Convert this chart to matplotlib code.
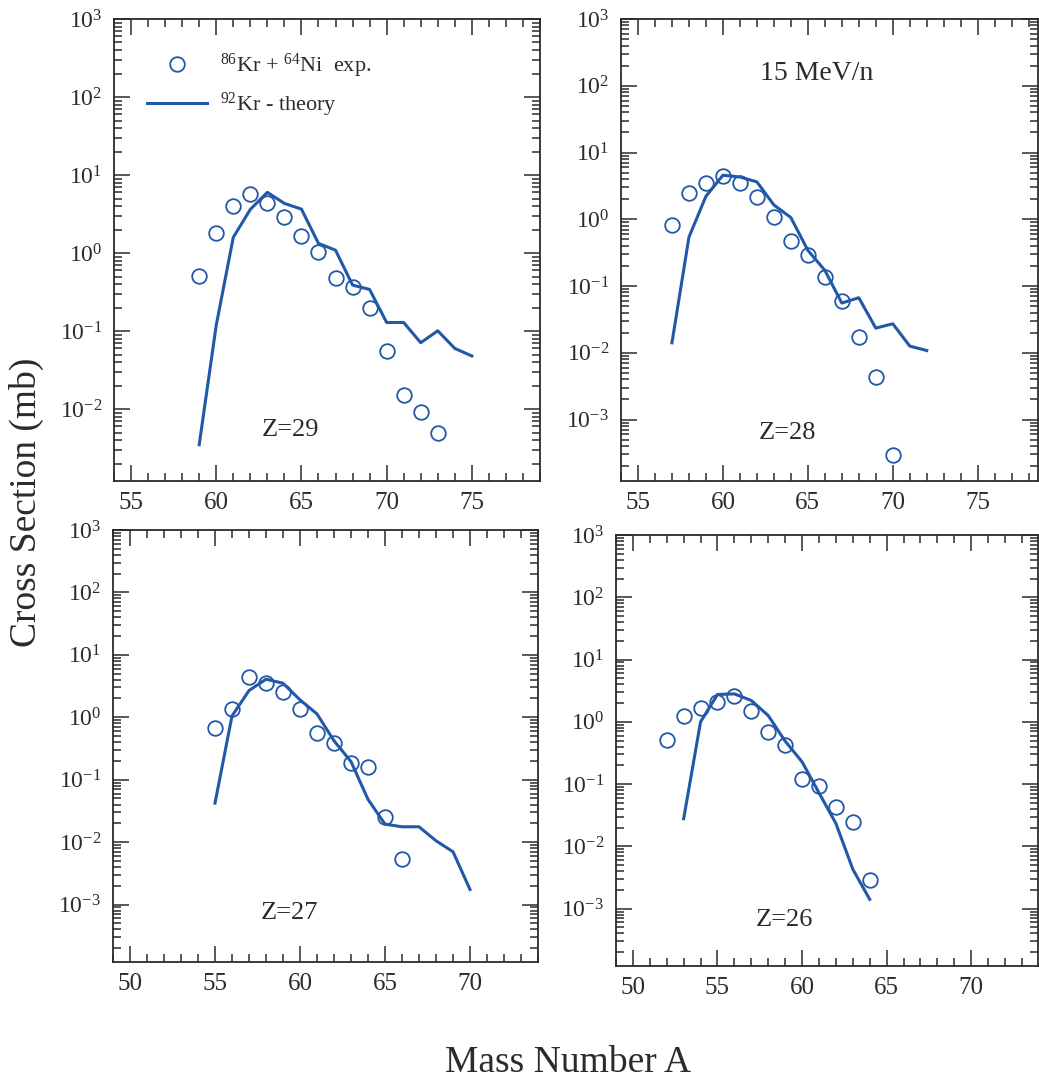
import numpy as np
import matplotlib
matplotlib.use('Agg')
import matplotlib.pyplot as plt
from matplotlib.ticker import MultipleLocator, LogLocator, NullFormatter

plt.rcParams['font.family'] = ['Liberation Serif', 'DejaVu Serif']
plt.rcParams['mathtext.fontset'] = 'custom'
plt.rcParams['mathtext.rm'] = 'Liberation Serif'
plt.rcParams['mathtext.it'] = 'Liberation Serif:italic'
plt.rcParams['mathtext.default'] = 'regular'
plt.rcParams['axes.unicode_minus'] = False

BLUE = '#2158a8'
INK = '#2b2b2b'

# Z=29
a29_exp = [59, 60, 61, 62, 63, 64, 65, 66, 67, 68, 69, 70, 71, 72, 73]
s29_exp = [0.51, 1.79, 4.05, 5.8, 4.4, 2.87, 1.65, 1.02, 0.48, 0.363, 0.195,
           0.056, 0.015, 0.0092, 0.0049]
a29_th = [59, 60, 61, 62, 63, 64, 65, 66, 67, 68, 69, 70, 71, 72, 73, 74, 75]
s29_th = [0.0035, 0.119, 1.59, 3.63, 6.0, 4.33, 3.66, 1.33, 1.09, 0.389, 0.342,
          0.129, 0.129, 0.071, 0.101, 0.06, 0.048]

# Z=28
a28_exp = [57, 58, 59, 60, 61, 62, 63, 64, 65, 66, 67, 68, 69, 70]
s28_exp = [0.83, 2.5, 3.55, 4.47, 3.47, 2.19, 1.1, 0.48, 0.29, 0.136, 0.059,
           0.017, 0.0043, 0.00029]
a28_th = [57, 58, 59, 60, 61, 62, 63, 64, 65, 66, 67, 68, 69, 70, 71, 72]
s28_th = [0.0141, 0.54, 2.21, 4.57, 4.3, 3.63, 1.64, 1.06, 0.343, 0.172, 0.0556,
          0.0668, 0.0234, 0.0272, 0.0126, 0.0108]

# Z=27
a27_exp = [55, 56, 57, 58, 59, 60, 61, 62, 63, 64, 65, 66]
s27_exp = [0.68, 1.36, 4.38, 3.6, 2.52, 1.36, 0.55, 0.39, 0.183, 0.162, 0.0249,
           0.0054]
a27_th = [55, 56, 57, 58, 59, 60, 61, 62, 63, 64, 65, 66, 67, 68, 69, 70]
s27_th = [0.042, 1.05, 2.68, 4.07, 3.51, 1.9, 1.13, 0.42, 0.195, 0.0483, 0.0194,
          0.0176, 0.0176, 0.0105, 0.007, 0.00174]

# Z=26
a26_exp = [52, 53, 54, 55, 56, 57, 58, 59, 60, 61, 62, 63, 64]
s26_exp = [0.52, 1.26, 1.68, 2.07, 2.58, 1.48, 0.69, 0.42, 0.123, 0.093, 0.0433,
           0.0249, 0.0029]
a26_th = [53, 54, 55, 56, 57, 58, 59, 60, 61, 62, 63, 64]
s26_th = [0.0278, 1.0, 2.75, 2.81, 2.2, 1.26, 0.49, 0.228, 0.0726, 0.0234,
          0.0043, 0.00141]

W, H = 1039, 1080


def px_axes(fig, left, bottom, width, height):
    # pixel box (top-down bottom coord) -> figure fraction
    return fig.add_axes([left / W, (H - bottom) / H, width / W, height / H])


def style_axes(ax, xlim, ylim):
    ax.set_yscale('log')
    ax.set_xlim(*xlim)
    ax.set_ylim(*ylim)
    ax.xaxis.set_major_locator(MultipleLocator(5))
    ax.xaxis.set_minor_locator(MultipleLocator(1))
    ax.yaxis.set_major_locator(LogLocator(base=10, numticks=20))
    ax.yaxis.set_minor_locator(LogLocator(base=10, subs=np.arange(2, 10), numticks=20))
    ax.yaxis.set_minor_formatter(NullFormatter())
    ax.tick_params(which='both', direction='in', top=True, right=True,
                   color=INK, width=1.1)
    ax.tick_params(which='major', length=11.5)
    ax.tick_params(which='minor', length=5.8)
    ax.tick_params(axis='x', labelsize=18, pad=8, labelcolor=INK)
    ax.tick_params(axis='y', labelsize=17, pad=8.5, labelcolor=INK)
    for sp in ax.spines.values():
        sp.set_color(INK)
        sp.set_linewidth(1.3)


def draw(ax, a_exp, s_exp, a_th, s_th):
    ax.plot(a_exp, s_exp, 'o', ms=10.5, mfc='none', mec=BLUE, mew=1.3,
            label=r'$^{86}$Kr + $^{64}$Ni  exp.')
    ax.plot(a_th, s_th, '-', color=BLUE, lw=2.2,
            label=r'$^{92}$Kr - theory')


fig = plt.figure(figsize=(W / 100, H / 100), dpi=100)

ax1 = px_axes(fig, 114, 481, 426, 462)
draw(ax1, a29_exp, s29_exp, a29_th, s29_th)
style_axes(ax1, (54, 79), (1.2e-3, 1e3))
ax1.text(0.413, 0.11, 'Z=29', transform=ax1.transAxes, ha='center', va='center',
         fontsize=19, color=INK)
ax1.legend(loc='upper left', bbox_to_anchor=(0.077, 0.928), frameon=False,
           fontsize=16, handlelength=2.7, handletextpad=0.6, labelspacing=0.45,
           borderpad=0, borderaxespad=0, numpoints=1, labelcolor=INK)

ax2 = px_axes(fig, 621, 481, 417, 462)
draw(ax2, a28_exp, s28_exp, a28_th, s28_th)
style_axes(ax2, (54, 78.55), (1.2e-4, 1e3))
ax2.text(0.40, 0.104, 'Z=28', transform=ax2.transAxes, ha='center', va='center',
         fontsize=19, color=INK)
ax2.text(0.47, 0.883, '15 MeV/n', transform=ax2.transAxes, ha='center', va='center',
         fontsize=20, color=INK)

ax3 = px_axes(fig, 113, 962, 425, 432)
draw(ax3, a27_exp, s27_exp, a27_th, s27_th)
style_axes(ax3, (49, 74), (1.2e-4, 1e3))
ax3.text(0.416, 0.113, 'Z=27', transform=ax3.transAxes, ha='center', va='center',
         fontsize=19, color=INK)

ax4 = px_axes(fig, 616, 966, 422, 431)
draw(ax4, a26_exp, s26_exp, a26_th, s26_th)
style_axes(ax4, (49, 73.95), (1.2e-4, 1e3))
ax4.text(0.40, 0.107, 'Z=26', transform=ax4.transAxes, ha='center', va='center',
         fontsize=19, color=INK)

fig.text(26 / W, 1 - 502 / H, 'Cross Section (mb)', rotation=90, ha='center',
         va='center', fontsize=27, color=INK)
fig.text(568 / W, 1 - 1063 / H, 'Mass Number A', ha='center', va='center',
         fontsize=27, color=INK)

fig.savefig('out.png', dpi=100)
